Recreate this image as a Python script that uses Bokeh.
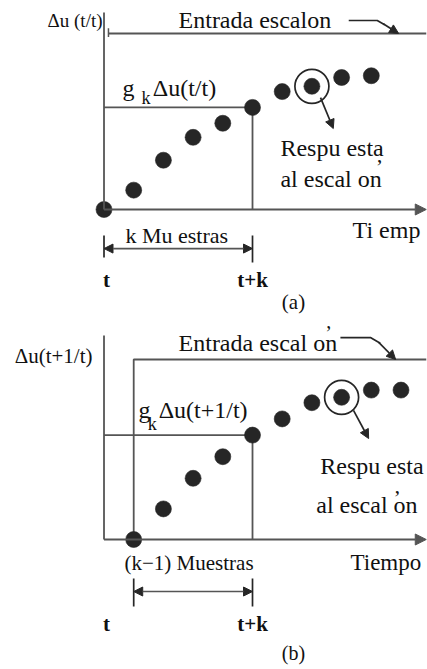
from bokeh.plotting import figure
from bokeh.layouts import column
from bokeh.models import Range1d, Label, Arrow, NormalHead
from bokeh.embed import file_html
from bokeh.resources import INLINE

# Step response samples (sample index, normalised response)
samples_a = [0, 1, 2, 3, 4, 5, 6, 7, 8, 9]
resp_a = [0.0, 0.11, 0.28, 0.41, 0.49, 0.58, 0.67, 0.70, 0.75, 0.76]
samples_b = [1, 2, 3, 4, 5, 6, 7, 8, 9, 10]
resp_b = [0.0, 0.17, 0.34, 0.46, 0.58, 0.67, 0.76, 0.79, 0.83, 0.83]
step_level = 1.0
k = 5
circled_a = 7
circled_b = 8

FONT = "Liberation Serif"
LINE = "#555555"
DOT = "#262626"
TXT = "#111111"
X_RANGE = (-3.485, 10.892)


def make_panel(height, y_range):
    p = figure(width=427, height=height, x_range=Range1d(*X_RANGE),
               y_range=Range1d(*y_range), x_axis_type=None, y_axis_type=None,
               output_backend="svg", toolbar_location=None, min_border=0)
    p.grid.visible = False
    p.outline_line_color = None
    p.background_fill_color = "white"
    p.border_fill_color = "white"
    return p


def label(p, x, y, text, size="24px", align="left", style="normal", baseline="middle"):
    p.add_layout(Label(x=x, y=y, text=text, text_font=FONT, text_font_size=size,
                       text_align=align, text_baseline=baseline, text_color=TXT,
                       text_font_style=style))


def arrow(p, x0, y0, x1, y1, both=False, size=10, width=1.7):
    head = lambda: NormalHead(size=size, fill_color=DOT, line_color=DOT, line_width=1)
    p.add_layout(Arrow(x_start=x0, y_start=y0, x_end=x1, y_end=y1,
                       start=head() if both else None, end=head(),
                       line_color=LINE if both else DOT, line_width=width))


def draw(p, samples, resp, step_start, circled, y_top, x_end,
         dim_start, dim_y, dim_tick, text_y):
    gk = resp[samples.index(k)]
    # step input
    if step_start > 0:
        p.line([step_start, step_start, x_end], [0, step_level, step_level],
               line_color=LINE, line_width=1.8)
    else:
        p.line([step_start + 0.15, x_end], [step_level, step_level],
               line_color=LINE, line_width=1.8)
        p.line([step_start + 0.15, step_start + 0.15], [step_level - 0.02, step_level + 0.03],
               line_color=LINE, line_width=1.5)
    # g_k level at t+k
    p.line([0, k, k], [gk, gk, 0], line_color=LINE, line_width=1.8)
    # samples
    p.scatter(samples, resp, size=16, fill_color=DOT, line_color=DOT, line_alpha=0.6)
    ci = samples.index(circled)
    p.scatter([circled], [resp[ci]], size=34, fill_color=None, line_color=DOT,
              line_width=1.7)
    # axes
    p.line([0, 0], [0, y_top], line_color=LINE, line_width=1.8)
    p.add_layout(Arrow(x_start=0, y_start=0, x_end=x_end, y_end=0,
                       end=NormalHead(size=11, fill_color=LINE, line_color=LINE),
                       line_color=LINE, line_width=1.8))
    # sample-count dimension
    arrow(p, dim_start, dim_y, k, dim_y, both=True, size=9, width=1.7)
    p.line([dim_start, dim_start], dim_tick[0], line_color=DOT, line_width=1.7)
    p.line([k, k], dim_tick[1], line_color=DOT, line_width=1.7)
    label(p, 0.08, text_y, "t", size="21px", align="center", style="bold")
    label(p, k, text_y, "t+k", size="21px", align="center", style="bold")


# ---- panel (a) ----
pa = make_panel(320, (-0.6307, 1.1875))
draw(pa, samples_a, resp_a, 0, circled_a, 1.119, 10.85,
     0, -0.222, ([-0.148, -0.273], [-0.148, -0.301]), -0.403)
label(pa, -0.05, 1.074, "\u0394u (t/t)", size="19px", align="right")
label(pa, 2.51, 1.074, "Entrada escalon")
pa.line([8.24, 9.2, 9.45], [1.074, 1.074, 1.05], line_color=DOT, line_width=1.7)
arrow(pa, 9.4, 1.055, 9.92, 1.0, size=9)
label(pa, 0.62, 0.6875, "g")
label(pa, 1.26, 0.636, "k", size="18px")
label(pa, 1.64, 0.6875, "\u0394u(t/t)")
label(pa, 5.94, 0.347, "Respu esta")
label(pa, 5.94, 0.176, "al escal  on")
label(pa, 9.15, 0.245, "\u2019", size="22px")
arrow(pa, 7.29, 0.636, 7.72, 0.46, size=9)
label(pa, 8.37, -0.119, "Ti  emp")
label(pa, 0.72, -0.148, "k Mu estras", size="22px")
label(pa, 6.38, -0.528, "(a)", size="21px", align="center")

# ---- panel (b) ----
pb = make_panel(349, (-0.7222, 1.2167))
draw(pb, samples_b, resp_b, 1, circled_b, 1.133, 10.85,
     1, -0.289, ([-0.217, -0.372], [-0.217, -0.372]), -0.467)
label(pb, -0.387, 1.022, "\u0394u(t+1/t)", size="21px", align="right")
label(pb, 2.51, 1.094, "Entrada escal  on")
label(pb, 7.45, 1.2083, "\u2019", size="20px", baseline="top")
pb.line([7.96, 8.97, 9.3], [1.122, 1.122, 1.09], line_color=DOT, line_width=1.7)
arrow(pb, 9.25, 1.095, 9.82, 1.0, size=9)
label(pb, 1.16, 0.717, "g")
label(pb, 1.47, 0.639, "k", size="18px")
label(pb, 1.84, 0.717, "\u0394u(t+1/t)")
label(pb, 10.76, 0.406, "Respu esta", align="right")
label(pb, 10.76, 0.189, "al escal  on", align="right")
label(pb, 9.75, 0.235, "\u2019", size="22px")
arrow(pb, 8.40, 0.717, 8.91, 0.561, size=9)
label(pb, 0.69, -0.133, "(k\u22121) Muestras", size="21px")
label(pb, 8.30, -0.128, "Tiempo", size="23px")
label(pb, 6.38, -0.633, "(b)", size="20px", align="center")

layout = column(pa, pb, spacing=0)
open("out.html", "w").write(file_html(layout, INLINE))
